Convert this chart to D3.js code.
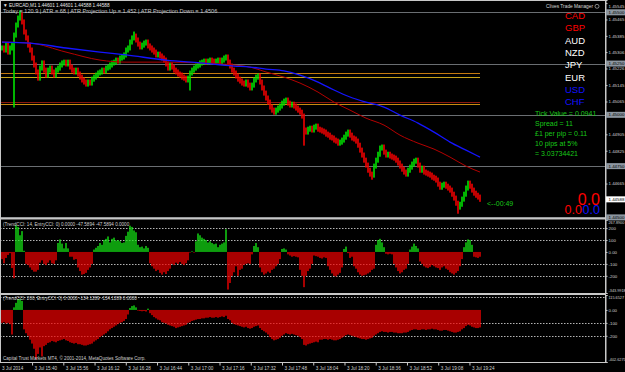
<!DOCTYPE html>
<html>
<head>
<meta charset="utf-8" />
<title>EURCAD,M1</title>
<script src="https://cdnjs.cloudflare.com/ajax/libs/d3/7.8.5/d3.min.js"></script>
<style>
  html, body { margin: 0; padding: 0; background: #000; }
  svg { display: block; }
  text { font-family: "Liberation Sans", Arial, sans-serif; }
</style>
</head>
<body>
<div id="chart"></div>
<script>
// M1 closes
var closes = [
  1.45326, 1.45316, 1.45340, 1.45306, 1.45326, 1.45340, 1.45389, 1.45438, 1.45472, 1.45487,
  1.45453, 1.45404, 1.45375, 1.45340, 1.45316, 1.45277, 1.45243, 1.45209, 1.45179, 1.45228,
  1.45253, 1.45218, 1.45194, 1.45218, 1.45228, 1.45209, 1.45194, 1.45218, 1.45228, 1.45243,
  1.45253, 1.45257, 1.45248, 1.45257, 1.45233, 1.45218, 1.45209, 1.45218, 1.45199, 1.45184,
  1.45170, 1.45160, 1.45150, 1.45160, 1.45155, 1.45174, 1.45184, 1.45194, 1.45204, 1.45209,
  1.45218, 1.45214, 1.45228, 1.45233, 1.45243, 1.45253, 1.45257, 1.45267, 1.45262, 1.45277,
  1.45282, 1.45292, 1.45316, 1.45326, 1.45355, 1.45375, 1.45384, 1.45365, 1.45345, 1.45331,
  1.45340, 1.45350, 1.45355, 1.45336, 1.45326, 1.45316, 1.45306, 1.45292, 1.45296, 1.45287,
  1.45277, 1.45267, 1.45248, 1.45228, 1.45243, 1.45233, 1.45218, 1.45209, 1.45199, 1.45194,
  1.45184, 1.45179, 1.45170, 1.45179, 1.45204, 1.45218, 1.45228, 1.45238, 1.45243, 1.45253,
  1.45257, 1.45262, 1.45257, 1.45262, 1.45267, 1.45262, 1.45257, 1.45262, 1.45267, 1.45257,
  1.45267, 1.45277, 1.45282, 1.45257, 1.45238, 1.45218, 1.45204, 1.45189, 1.45174, 1.45165,
  1.45155, 1.45150, 1.45160, 1.45145, 1.45131, 1.45145, 1.45170, 1.45184, 1.45189, 1.45160,
  1.45131, 1.45106, 1.45082, 1.45062, 1.45038, 1.45023, 1.45013, 1.45023, 1.45033, 1.45043,
  1.45057, 1.45067, 1.45072, 1.45057, 1.45048, 1.45052, 1.45043, 1.45033, 1.45023, 1.45013,
  1.44994, 1.44926, 1.44916, 1.44930, 1.44935, 1.44926, 1.44940, 1.44945, 1.44930, 1.44926,
  1.44921, 1.44916, 1.44906, 1.44901, 1.44891, 1.44887, 1.44877, 1.44872, 1.44862, 1.44867,
  1.44877, 1.44891, 1.44906, 1.44916, 1.44901, 1.44887, 1.44882, 1.44872, 1.44852, 1.44828,
  1.44804, 1.44779, 1.44755, 1.44730, 1.44711, 1.44706, 1.44750, 1.44779, 1.44808, 1.44838,
  1.44843, 1.44818, 1.44804, 1.44808, 1.44799, 1.44794, 1.44789, 1.44779, 1.44765, 1.44750,
  1.44735, 1.44721, 1.44711, 1.44730, 1.44745, 1.44760, 1.44774, 1.44779, 1.44755, 1.44730,
  1.44740, 1.44721, 1.44716, 1.44711, 1.44706, 1.44696, 1.44691, 1.44682, 1.44662, 1.44647,
  1.44657, 1.44662, 1.44652, 1.44643, 1.44633, 1.44613, 1.44594, 1.44569, 1.44550, 1.44564,
  1.44589, 1.44613, 1.44643, 1.44667, 1.44652, 1.44633, 1.44618, 1.44608, 1.44599, 1.44588
];
// long shadows [bar, price]
var wicks = [[6, 1.45048], [9, 1.45497], [66, 1.45394], [94, 1.45131], [151, 1.44862], [185, 1.44696], [228, 1.44530]];

// moving averages, read at sample bars
var maBars = [0, 14, 32, 49, 62, 82, 99, 116, 124, 132, 141, 149, 158, 166, 174, 182, 191, 199, 208, 216, 224, 232, 239];
var maSlow = [1.45355, 1.45350, 1.45326, 1.45306, 1.45292, 1.45267, 1.45253, 1.45238, 1.45233, 1.45223, 1.45214, 1.45194,
  1.45160, 1.45121, 1.45087, 1.45062, 1.45038, 1.44999, 1.44960, 1.44916, 1.44867, 1.44828, 1.44794];
var maFast = [1.45355, 1.45350, 1.45306, 1.45267, 1.45257, 1.45257, 1.45253, 1.45243, 1.45233, 1.45209, 1.45184, 1.45155,
  1.45111, 1.45062, 1.45023, 1.44984, 1.44950, 1.44901, 1.44862, 1.44833, 1.44794, 1.44750, 1.44721];

var cci14 = [
  -60, -95, -50, -25, -10, -135, -220, 225, 210, 140,
  175, 10, -100, -110, -130, -150, -165, -165, -150, -90,
  -70, -100, -110, -90, -70, -95, -100, -70, 75, 105,
  70, 30, 75, 30, -40, -40, -65, -60, -130, -160,
  -190, -185, -175, -150, -130, -100, 20, 35, 50, 75,
  60, 100, 110, 130, 80, 110, 120, 95, 100, 90,
  75, 80, 135, 170, 220, 210, 180, 165, 60, 40,
  45, 30, 50, 35, -95, -120, -140, -160, -150, -175,
  -190, -170, -185, -160, -140, -100, -110, -90, -100, -85,
  -100, -110, -95, -70, -5, 5, -5, 90, 155, 140,
  120, 110, 100, 80, 90, 75, 65, 70, 40, 60,
  70, 80, 190, -315, -260, -200, -170, -120, -200, -150,
  -140, -110, -100, -95, -100, -20, 50, 75, 40, -130,
  -170, -190, -180, -165, -175, -150, -140, -120, -100, -60,
  25, 30, 20, -20, -30, -40, -35, -40, -45, -150,
  -200, -295, -200, -160, -140, -100, -30, -35, -40, -50,
  -55, -45, -50, -120, -150, -180, -200, -205, -190, -175,
  -130, 25, 45, -10, -50, -40, -120, -140, -170, -190,
  -200, -195, -190, -180, -170, -150, -140, 60, 100, 110,
  80, 40, -15, -20, -15, -20, -100, -130, -160, -180,
  -170, -150, -140, -100, 20, 45, 70, 50, 30, -80,
  -100, -120, -130, -135, -125, -110, -120, -130, -135, -150,
  -130, -120, -140, -150, -170, -180, -190, -175, -160, -120,
  -60, 40, 80, 105, 100, 60, -40, -45, -50, -40
];
var cci200 = [
  -100, -95, -105, -100, -110, -190, 20, 55, 85, 85,
  70, -150, -180, -200, -230, -260, -300, -380, -340, -290,
  -360, -280, -270, -255, -250, -240, -245, -250, -240, -235,
  -230, -225, -235, -240, -250, -255, -260, -255, -265, -265,
  -270, -275, -275, -270, -265, -260, -245, -235, -225, -210,
  -200, -190, -180, -165, -150, -140, -130, -120, -110, -100,
  -95, -85, -70, -35, 15, 30, 35, 20, -5, -8,
  -10, -8, -12, 10, -25, -40, -55, -65, -75, -80,
  -95, -100, -105, -115, -120, -125, -130, -140, -135, -130,
  -125, -120, -115, -100, -95, -85, -80, -75, -70, -70,
  -65, -65, -60, -60, -55, -60, -60, -55, -60, -55,
  -50, -55, -45, -70, -80, -100, -110, -115, -120, -125,
  -130, -135, -130, -140, -145, -140, -130, -125, -120, -140,
  -155, -165, -175, -190, -210, -225, -235, -230, -225, -215,
  -200, -190, -180, -185, -190, -185, -190, -195, -200, -210,
  -225, -270, -275, -265, -260, -255, -250, -245, -250, -230,
  -230, -225, -225, -230, -225, -230, -235, -235, -230, -225,
  -215, -205, -195, -190, -195, -200, -205, -210, -215, -220,
  -225, -225, -230, -225, -220, -215, -200, -190, -180, -170,
  -165, -170, -170, -175, -170, -170, -175, -175, -180, -180,
  -180, -175, -175, -170, -160, -155, -150, -150, -155, -155,
  -150, -150, -155, -150, -150, -145, -150, -150, -155, -160,
  -160, -155, -155, -160, -165, -170, -175, -175, -170, -165,
  -150, -140, -125, -115, -120, -130, -135, -140, -140, -135
];

var roundLevels = [1.455, 1.4525, 1.45, 1.4475, 1.445];
var atrLevels = [1.45203, 1.45184, 1.45062, 1.45055];
var atrColors = ["#c47a10", "#c8a418", "#8a1810", "#c88a10"];
var priceTicks = [1.45545, 1.45465, 1.45385, 1.45306, 1.45226, 1.45145, 1.45065, 1.44905, 1.44825, 1.44665];
var lastPrice = 1.44588;
var cci14Ticks = [267.89, 200, 100, 0, -100, -200, -343.9918];
var cci200Ticks = [115.6527, 0, -100, -200, -402.6275];
var cciLevels = [200, 100, -100, -200];
var timeTicks = ["15:40", "15:56", "16:12", "16:28", "16:44", "17:00", "17:16", "17:32", "17:48",
  "18:04", "18:20", "18:36", "18:52", "19:08", "19:24"];
var currencies = ["CAD", "GBP", "AUD", "NZD", "JPY", "EUR", "USD", "CHF"];
var currencyColors = ["#ff0000", "#ff0000", "#ffffff", "#ffffff", "#ffffff", "#ffffff", "#1010ff", "#1010ff"];
var infoLines = ["Tick Value = 0.0941", "Spread = 11", "\u00a31 per pip = 0.11", "10 pips at 5%", "= 3.03734421"];

var W = 625, H = 372, axisX = 605;
var grey = "#c8c8c8", textCol = "#d0d0d0";

var svg = d3.select("#chart").append("svg")
  .attr("width", W).attr("height", H)
  .style("background", "#000");

var x = d3.scaleLinear().domain([0, closes.length - 1]).range([2, 480]);
var xTime = d3.scaleTime()
  .domain([new Date(2014, 6, 3, 15, 24, 36), new Date(2014, 6, 3, 19, 29, 24)])
  .range([2, 480]);
var y = d3.scaleLinear().domain([1.44497, 1.45560]).range([218, 0]);
var y1 = d3.scaleLinear().domain([-343.9918, 267.89]).range([293, 220]);
var y2 = d3.scaleLinear().domain([-402.6275, 115.6527]).range([362, 295]);
var px = v => Math.round(v) + 0.5;

// ---- main window ----
svg.append("g").selectAll("line").data(roundLevels).join("line")
  .attr("x1", 0).attr("x2", axisX)
  .attr("y1", d => px(y(d))).attr("y2", d => px(y(d)))
  .attr("stroke", "#6a6e72");

svg.append("g").selectAll("line").data(atrLevels).join("line")
  .attr("x1", 0).attr("x2", x(closes.length - 1))
  .attr("y1", d => px(y(d))).attr("y2", d => px(y(d)))
  .attr("stroke", (d, i) => atrColors[i]);

var wickMap = new Map(wicks);
var bars = closes.map((c, i) => {
  var o = i ? closes[i - 1] : c;
  var hi = Math.max(o, c), lo = Math.min(o, c);
  if (wickMap.has(i)) { hi = Math.max(hi, wickMap.get(i)); lo = Math.min(lo, wickMap.get(i)); }
  return { i: i, o: o, c: c, hi: hi, lo: lo };
});

svg.append("g").selectAll("rect").data(bars).join("rect")
  .attr("x", d => x(d.i) - 0.8)
  .attr("width", 1.6)
  .attr("y", d => y(d.hi) - 2.5)
  .attr("height", d => y(d.lo) - y(d.hi) + 5)
  .attr("fill", d => d.c >= d.o ? "#00e000" : "#f00000");

var maLine = vals => d3.line()
  .x((d, i) => x(maBars[i]))
  .y(d => y(d))
  .curve(d3.curveMonotoneX)(vals);

svg.append("path").attr("d", maLine(maFast))
  .attr("fill", "none").attr("stroke", "#b40000").attr("stroke-width", 1);
svg.append("path").attr("d", maLine(maSlow))
  .attr("fill", "none").attr("stroke", "#1414ff").attr("stroke-width", 1.3);

// ---- indicator windows ----
function cciWindow(vals, ys) {
  svg.append("g").selectAll("line").data(cciLevels.filter(l => l < ys.domain()[1])).join("line")
    .attr("x1", 0).attr("x2", axisX)
    .attr("y1", d => px(ys(d))).attr("y2", d => px(ys(d)))
    .attr("stroke", "#b4b4b4").attr("stroke-dasharray", "1.5,1.5");
  svg.append("g").selectAll("rect").data(vals).join("rect")
    .attr("x", (d, i) => x(i) - 0.7)
    .attr("width", 1.4)
    .attr("y", d => Math.min(ys(d), ys(0)))
    .attr("height", d => Math.max(0.6, Math.abs(ys(d) - ys(0))))
    .attr("fill", d => d >= 0 ? "#14e014" : "#f00000");
}
cciWindow(cci14, y1);
cciWindow(cci200, y2);

// ---- frames ----
svg.append("rect").attr("x", 0.5).attr("y", 0.5).attr("width", axisX).attr("height", 362)
  .attr("fill", "none").attr("stroke", grey);
[218.5, 294].forEach(v => svg.append("rect").attr("x", 0).attr("y", v - 1).attr("width", axisX + 1)
  .attr("height", 2).attr("fill", grey));

// ---- right axes ----
function styleAxis(g) {
  g.select(".domain").attr("stroke", grey);
  g.selectAll(".tick line").attr("stroke", grey);
  g.selectAll(".tick text").attr("fill", textCol).attr("font-size", 4.4)
    .attr("font-family", "Liberation Sans, Arial, sans-serif");
}
svg.append("g").attr("transform", `translate(${axisX + 0.5},0)`)
  .call(d3.axisRight(y).tickValues(priceTicks).tickFormat(d3.format(".5f")).tickSize(2).tickPadding(1))
  .call(styleAxis)
  .call(g => g.selectAll(".tick").filter(d => d === priceTicks[0]).select("text").attr("dy", "0.9em"));

var cciFmt = d => d === 0 ? "0.00" : (Number.isInteger(d) ? d : d.toFixed(4));
// min/max labels sit just inside their window, a little smaller
var pushIn = ticks => g => g.selectAll(".tick text")
  .attr("dy", d => d === ticks[0] ? "1.05em" : d === ticks[ticks.length - 1] ? "-0.35em" : "0.32em")
  .attr("font-size", d => Number.isInteger(d) ? 4.4 : 3.8);
svg.append("g").attr("transform", `translate(${axisX + 0.5},0)`)
  .call(d3.axisRight(y1).tickValues(cci14Ticks).tickFormat(cciFmt).tickSize(2).tickPadding(1))
  .call(styleAxis).call(pushIn(cci14Ticks));
svg.append("g").attr("transform", `translate(${axisX + 0.5},0)`)
  .call(d3.axisRight(y2).tickValues(cci200Ticks).tickFormat(cciFmt).tickSize(2).tickPadding(1))
  .call(styleAxis).call(pushIn(cci200Ticks));

// level boxes on the price scale
var boxes = svg.append("g").selectAll("g").data(roundLevels.map(v => ({ v: v, bg: "#8c96a0" }))
  .concat([{ v: lastPrice, bg: "#ffffff" }])).join("g")
  .attr("transform", d => `translate(${axisX + 1},${y(d.v)})`);
boxes.append("rect").attr("x", 0).attr("y", -3).attr("width", 19).attr("height", 6).attr("fill", d => d.bg);
boxes.append("text").attr("x", 2.5).attr("y", 1.6).attr("font-size", 4.4).attr("fill", "#000")
  .text(d => d.v.toFixed(5));

// ---- time axis ----
var parseT = d3.timeParse("%Y-%m-%d %H:%M");
var tAxis = svg.append("g").attr("transform", "translate(0,362.5)")
  .call(d3.axisBottom(xTime).tickValues(timeTicks.map(t => parseT("2014-07-03 " + t)))
    .tickFormat(d3.timeFormat("%-d %b %H:%M")).tickSize(3).tickPadding(1));
tAxis.select(".domain").remove();
tAxis.selectAll(".tick line").attr("stroke", grey);
tAxis.selectAll(".tick text").attr("fill", textCol).attr("font-size", 4.6)
  .attr("text-anchor", "start").attr("dx", 2);
svg.append("text").attr("x", 2).attr("y", 370).attr("font-size", 4.6).attr("fill", textCol).text("3 Jul 2014");

// ---- texts ----
function label(tx, ty, str, size, col, anchor) {
  return svg.append("text").attr("x", tx).attr("y", ty).attr("font-size", size)
    .attr("fill", col).attr("text-anchor", anchor || "start").text(str);
}
label(3, 7, "\u25BC EURCAD,M1  1.44601 1.44601 1.44588 1.44588", 4.7, "#e8e8e8");
label(3, 13, "Today = 120.9   |   ATR = 68   |   ATR Projection Up = 1.452   |   ATR Projection Down = 1.4506", 5.6, "#c8c8c8");
label(593, 8, "Clives Trade Manager", 4.8, "#d8d8d8", "end");
svg.append("circle").attr("cx", 597).attr("cy", 6.3).attr("r", 2).attr("fill", "none").attr("stroke", "#d8d8d8").attr("stroke-width", 0.6);

currencies.forEach((c, i) => label(565, 19 + i * 12.3, c, 9.5, currencyColors[i]));
infoLines.forEach((s, i) => label(535, 116 + i * 10, s, 7, "#18c818"));
label(487, 206, "<--00:49", 7, "#18c818");
label(600, 205, "0.0", 16, "#ff0000", "end");
label(582, 214, "0.0", 12.5, "#ff0000", "end");
label(600, 214, "0.0", 12.5, "#1010ff", "end");

label(3, 226, "(TrendCCI: 14, EntryCCI: 0)  0.0000 -47.5894 -47.5894 0.0000", 4.6, textCol);
label(3, 300, "(TrendCCI: 200, EntryCCI: 0)  0.0000 -134.1289 -134.1289 0.0000", 4.6, textCol);
label(3, 360, "Capital Trust Markets MT4, \u00a9 2001-2014, MetaQuotes Software Corp.", 4.6, textCol);
</script>
</body>
</html>
